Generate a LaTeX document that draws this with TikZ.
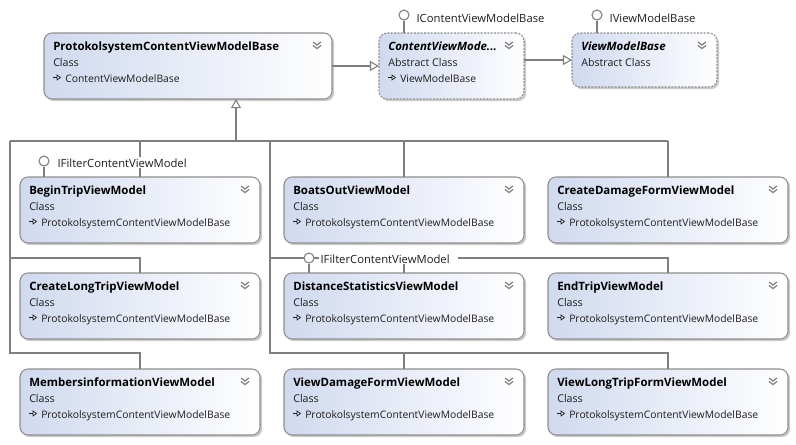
\documentclass[tikz,border=0pt]{standalone}
\usepackage{fontspec}
\setmainfont{Open Sans}
\usetikzlibrary{arrows.meta,shadows,calc}
\definecolor{edgec}{HTML}{7F7F7F}
\definecolor{bordc}{HTML}{8E8E8E}
\definecolor{blu}{HTML}{D0D9EF}
\definecolor{txtc}{HTML}{1E1E1E}
\definecolor{chevc}{HTML}{7A7A7A}
\tikzset{
  conn/.style={draw=edgec, line width=0.8pt},
  clsbox/.style={draw=bordc, line width=0.8pt, rounded corners=6pt,
    left color=blu, right color=white,
    drop shadow={shadow xshift=1.6pt, shadow yshift=-1.6pt, fill=black!40, opacity=0.5},
    anchor=north west, inner sep=0pt, outer sep=0pt},
  abstractbox/.style={dash pattern=on 1.5pt off 1pt},
  ttl/.style={anchor=base west, inner sep=0pt, font=\fontsize{8.6}{10}\selectfont\bfseries, text=black},
  kindtxt/.style={anchor=base west, inner sep=0pt, font=\fontsize{8}{9}\selectfont, text=txtc},
  basetxt/.style={anchor=base west, inner sep=0pt, font=\fontsize{7.75}{9}\selectfont, text=txtc},
  chev/.style={draw=chevc, line width=0.85pt},
  inhglyph/.style={draw=txtc, line width=0.5pt},
  lolc/.style={circle, draw=edgec, line width=0.8pt, fill=white, minimum size=7.5pt, inner sep=0pt},
  lollbl/.style={anchor=base west, inner sep=1pt, fill=white, font=\fontsize{8.45}{9}\selectfont, text=txtc},
  inhtip/.style={-{Triangle[open, length=6.8pt, width=7.5pt, fill=white]}},
}
% #1 extra style, #2 name, #3 x, #4 y, #5 width, #6 height, #7 title, #8 kind, #9 base
\newcommand\classbox[9][]{%
  \node[clsbox,#1, minimum width=#5*0.75pt, minimum height=#6*0.75pt] (#2) at (#3,#4) {};
  \node[ttl] (#2-t) at ($(#2.north west)+(9,17)$) {#7};
  \node[kindtxt] (#2-k) at ($(#2.north west)+(9,33)$) {#8};
  \if\relax\detokenize{#9}\relax\else
    \node[basetxt] (#2-b) at ($(#2.north west)+(21,49)$) {#9};
    \draw[inhglyph] ($(#2.north west)+(9,44.5)$) -- ($(#2.north west)+(13,44.5)$);
    \draw[inhglyph] ($(#2.north west)+(13,42)$) -- ($(#2.north west)+(16.5,44.5)$) -- ($(#2.north west)+(13,47)$) -- cycle;
  \fi
  \draw[chev] ($(#2.north east)+(-19,9)$) -- ($(#2.north east)+(-15,12)$) -- ($(#2.north east)+(-11,9)$);
  \draw[chev] ($(#2.north east)+(-19,12.5)$) -- ($(#2.north east)+(-15,15.5)$) -- ($(#2.north east)+(-11,12.5)$);
}
\begin{document}
\begin{tikzpicture}[x=0.75pt,y=-0.75pt]
\useasboundingbox[fill=white] (0,0) rectangle (796,444);

% ---------- coordinates of the connector bus ----------
\coordinate (up) at (236,141);
\coordinate (busL) at (10,141);
\coordinate (busM) at (270,141);
\coordinate (busR) at (668,141);
\coordinate (rowA) at (10,258);
\coordinate (rowB) at (10,353);
\coordinate (rowAm) at (270,258);
\coordinate (rowBm) at (270,353);

% ---------- top row ----------
\classbox{pcv}{44}{33}{288}{66}{ProtokolsystemContentViewModelBase}{Class}{ContentViewModelBase}
\classbox[abstractbox]{cvm}{379}{33}{145}{66}{\itshape ContentViewMode...}{Abstract Class}{ViewModelBase}
\classbox[abstractbox]{vmb}{572}{33}{145}{54}{\itshape ViewModelBase}{Abstract Class}{}

% ---------- grid of classes ----------
\classbox{bt}{20}{177}{240}{66}{BeginTripViewModel}{Class}{ProtokolsystemContentViewModelBase}
\classbox{bo}{284}{177}{240}{66}{BoatsOutViewModel}{Class}{ProtokolsystemContentViewModelBase}
\classbox{cdf}{548}{177}{240}{66}{CreateDamageFormViewModel}{Class}{ProtokolsystemContentViewModelBase}
\classbox{clt}{20}{273}{240}{66}{CreateLongTripViewModel}{Class}{ProtokolsystemContentViewModelBase}
\classbox{ds}{284}{273}{240}{66}{DistanceStatisticsViewModel}{Class}{ProtokolsystemContentViewModelBase}
\classbox{et}{548}{273}{240}{66}{EndTripViewModel}{Class}{ProtokolsystemContentViewModelBase}
\classbox{mi}{20}{369}{240}{66}{MembersinformationViewModel}{Class}{ProtokolsystemContentViewModelBase}
\classbox{vdf}{284}{369}{240}{66}{ViewDamageFormViewModel}{Class}{ProtokolsystemContentViewModelBase}
\classbox{vlt}{548}{369}{240}{66}{ViewLongTripFormViewModel}{Class}{ProtokolsystemContentViewModelBase}

% ---------- inheritance connectors ----------
\draw[conn, inhtip] (pcv.east |- 0,66) -- (cvm.west |- 0,66);
\draw[conn, inhtip] (cvm.east |- vmb.west) -- (vmb.west);
\draw[conn, inhtip] (up) -- (up |- pcv.south);
\draw[conn] (busL) -- (busR);
\draw[conn] (bt.north |- busL) -- (bt.north);
\draw[conn] (bo.north |- busL) -- (bo.north);
\draw[conn] (busR) -- (cdf.north);
\draw[conn] (busL) -- (rowA) -- (rowA -| clt.north) -- (clt.north);
\draw[conn] (busL) -- (rowB) -- (rowB -| mi.north) -- (mi.north);
\draw[conn] (busM) -- (rowAm) -- (rowAm -| et.north) -- (et.north);
\draw[conn] (rowAm -| ds.north) -- (ds.north);
\draw[conn] (busM) -- (rowBm) -- (rowBm -| vlt.north) -- (vlt.north);
\draw[conn] (rowBm -| vdf.north) -- (vdf.north);

% ---------- interface lollipops ----------
\node[lolc] (lcvm) at (404,15) {};
\draw[conn] (lcvm) -- (lcvm |- cvm.north);
\node[lollbl] (lcvm-t) at (415,22) {IContentViewModelBase};
\node[lolc] (lvmb) at (597,15) {};
\draw[conn] (lvmb) -- (lvmb |- vmb.north);
\node[lollbl] (lvmb-t) at (608,22) {IViewModelBase};
\node[lolc] (lbt) at (44,161) {};
\draw[conn] (lbt) -- (lbt |- bt.north);
\node[lollbl] (lbt-t) at (56,167) {IFilterContentViewModel};
\node[lolc] (lds) at (309,258) {};
\draw[conn] (lds) -- (lds |- ds.north);
\node[lollbl] (lds-t) at (319,263) {IFilterContentViewModel\kern5pt};
\end{tikzpicture}
\end{document}
